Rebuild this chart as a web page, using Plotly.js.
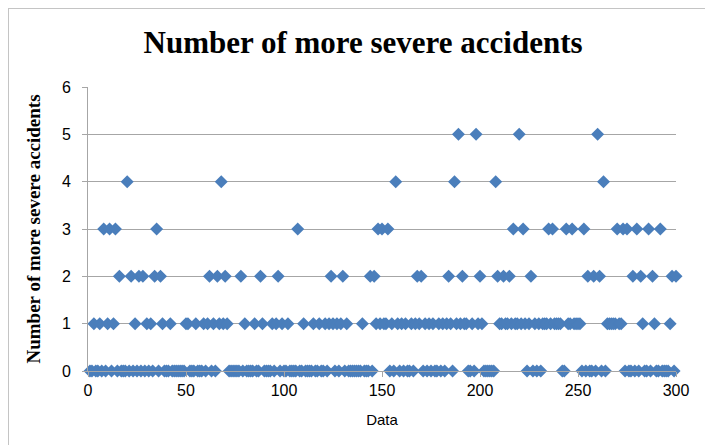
<!DOCTYPE html>
<html>
<head>
<meta charset="utf-8">
<script src="https://cdn.plot.ly/plotly-3.0.1.min.js"></script>
<style>
  html, body { margin: 0; padding: 0; background: #fff; overflow: hidden; }
  #frame { position: absolute; left: 8px; top: 8px; width: 720px; height: 460px; border: 1px solid #c4c4c4; box-sizing: border-box; }
  #chart { position: absolute; left: 0; top: 0; width: 705px; height: 445px; }
</style>
</head>
<body>
<div id="frame"></div>
<div id="chart"></div>
<script>
// Number of more severe accidents for each data record (records 1..300)
const accidents = [
  0,0,1,0,0,1,0,3,0,1, 3,0,1,3,0,2,0,0,0,4,
  0,2,0,1,0,2,0,2,0,1, 0,1,0,2,3,0,2,1,0,0,
  0,1,0,0,0,0,0,0,0,1, 1,0,0,0,1,0,0,0,1,0,
  1,2,0,1,0,2,1,4,1,2, 1,0,0,0,0,0,0,2,0,1,
  0,0,0,0,1,0,0,2,1,0, 0,0,0,1,0,1,2,0,1,0,
  0,1,0,0,0,0,3,0,0,1, 0,0,0,0,1,0,0,1,0,0,
  1,0,1,2,1,0,1,0,1,2, 0,1,0,0,0,0,0,0,0,1,
  0,0,0,2,0,2,1,3,1,3, 1,1,3,0,1,0,4,1,0,1,
  0,1,0,0,1,0,1,2,1,2, 0,1,0,1,0,1,0,0,1,0,
  1,0,1,2,1,0,4,1,5,1, 2,1,1,0,0,1,0,5,1,2,
  1,0,0,0,0,0,0,4,2,1, 1,2,1,1,2,1,3,1,1,5,
  1,3,1,0,1,2,0,1,0,1, 0,1,1,1,3,1,3,1,1,1,
  1,0,0,3,1,1,3,1,1,1, 1,0,3,0,2,0,0,2,0,5,
  2,0,4,0,1,1,1,1,1,3, 1,1,3,0,3,0,0,2,0,3,
  0,2,1,0,0,3,0,2,1,0, 0,3,0,0,0,0,1,2,0,2
];
const recordIndex = accidents.map((_, i) => i + 1);

const chartTitle = "Number of more severe accidents";
const xTitle = "Data";
const yTitle = "Number of more severe accidents";
const xTicks = [0, 50, 100, 150, 200, 250, 300];
const yTicks = [0, 1, 2, 3, 4, 5, 6];

const trace = {
  x: recordIndex,
  y: accidents,
  type: "scatter",
  mode: "markers",
  cliponaxis: false,
  marker: { symbol: "diamond", size: 10, color: "#4a7ebb", line: { width: 0 } },
  hoverinfo: "x+y"
};

const layout = {
  width: 705, height: 445,
  paper_bgcolor: "rgba(0,0,0,0)",
  plot_bgcolor: "#ffffff",
  margin: { l: 88, r: 29, t: 87, b: 74 },
  showlegend: false,
  title: {
    text: "<b>" + chartTitle + "</b>",
    font: { family: "Liberation Serif, Times New Roman, serif", size: 31, color: "#000" },
    x: 0.515, xanchor: "center", y: 0.905, yanchor: "middle"
  },
  xaxis: {
    range: [0, 300], tickvals: xTicks, ticktext: xTicks.map(String),
    showgrid: false, zeroline: false,
    showline: true, linecolor: "#a6a6a6", linewidth: 1,
    ticks: "outside", ticklen: 5, tickcolor: "#a6a6a6",
    tickfont: { family: "Liberation Sans, Arial, sans-serif", size: 16, color: "#000" },
    title: { text: xTitle, font: { family: "Liberation Sans, Arial, sans-serif", size: 15, color: "#000" }, standoff: 16 }
  },
  yaxis: {
    range: [0, 6], tickvals: yTicks, ticktext: yTicks.map(String),
    showgrid: true, gridcolor: "#a6a6a6", gridwidth: 1, zeroline: false,
    showline: true, linecolor: "#a6a6a6", linewidth: 1,
    ticks: "outside", ticklen: 5, tickcolor: "#a6a6a6",
    tickfont: { family: "Liberation Sans, Arial, sans-serif", size: 16, color: "#000" },
    ticklabelstandoff: 8,
    title: { text: "<b>" + yTitle + "</b>", font: { family: "Liberation Serif, Times New Roman, serif", size: 19, color: "#000" }, standoff: 16 }
  }
};

Plotly.newPlot("chart", [trace], layout, { displayModeBar: false, staticPlot: true });
</script>
</body>
</html>
